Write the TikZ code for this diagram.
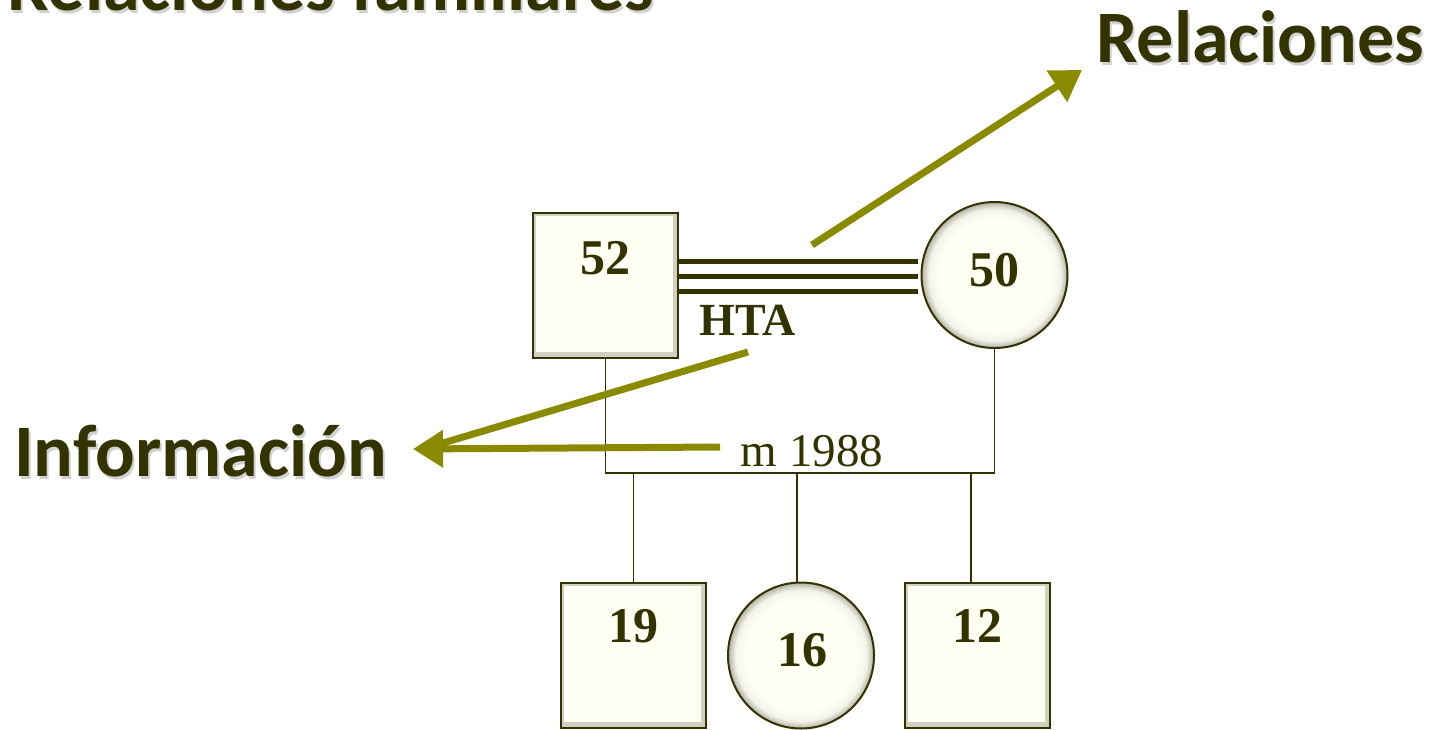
\documentclass[tikz,border=0pt]{standalone}
\usepackage{fontspec}
\setmainfont{Liberation Serif}
\newfontfamily\headfont{Carlito}
\usetikzlibrary{arrows.meta,calc}
\definecolor{ink}{HTML}{333300}
\definecolor{olivearrow}{HTML}{8A8A00}
\definecolor{cream}{HTML}{FFFFF4}
\definecolor{bevel}{HTML}{CFCFC2}
\pgfdeclareradialshading{ballbevel}{\pgfpoint{0bp}{0bp}}{color(0bp)=(cream); color(19bp)=(cream); color(22.5bp)=(cream!75!bevel); color(25bp)=(bevel!85!black); color(50bp)=(bevel!85!black)}
\newcommand{\shadowed}[1]{\makebox[0pt][l]{\hspace{2pt}\raisebox{-3pt}{\textcolor{black!18}{#1}}}#1}
\tikzset{
  sq/.style={draw=ink, line width=2pt, rectangle, minimum width=145pt, minimum height=145pt, inner sep=0pt, fill=bevel},
  inset/.style={fill=cream},
  ci/.style={draw=ink, line width=2pt, circle, minimum size=146pt, inner sep=0pt, shading=ballbevel},
  num/.style={text=ink, font=\fontsize{50}{50}\selectfont\bfseries},
  head/.style={text=ink, font=\headfont\fontsize{74}{74}\selectfont\bfseries, inner sep=0pt},
  link/.style={draw=ink, line width=1.5pt},
  rel/.style={draw=ink, line width=5pt},
  pointer/.style={draw=olivearrow, line width=7pt},
  pointerhead/.style={draw=olivearrow, line width=7pt, -{Triangle[length=30pt,width=36pt]}},
}
\begin{document}
\begin{tikzpicture}[x=1pt,y=-1pt]
\useasboundingbox (0,0) rectangle (1433,729);
% headings
\node[head, anchor=base west] (title) at (7,10) {\shadowed{Relaciones familiares}};
\node[head, anchor=base west] (relac) at (1096,62) {\shadowed{Relaciones}};
\node[head, anchor=base west] (info) at (14,476) {\shadowed{Información}};
% parents
\node[sq] (f) at (605.5,285.5) {};
\node[ci] (m) at (994.5,275) {};
% children
\node[sq] (c1) at (633.5,655.5) {};
\node[ci] (c2) at (801,655.5) {};
\node[sq] (c3) at (977,655.5) {};
% bevel insets of the squares
\foreach \n in {f,c1,c3}
  \fill[inset] ([shift={(4,4)}]\n.north west) rectangle ([shift={(-6,-7)}]\n.south east);
% numbers
\node[num] (f52) at (605,258) {52};
\node[num] (m50) at (994,270) {50};
\node[num] (n19) at (633,626) {19};
\node[num] (n16) at (802,650) {16};
\node[num] (n12) at (977,626) {12};
% relationship lines
\coordinate (r1) at (918,261);
\coordinate (r2) at (918,276);
\coordinate (r3) at (918,291);
\draw[rel] (f.east |- r1) -- (r1);
\draw[rel] (f.east |- r2) -- (r2);
\draw[rel] (f.east |- r3) -- (r3);
\node[font=\fontsize{46}{46}\selectfont\bfseries, text=ink] (hta) at (748,320) {HTA};
% marriage line
\coordinate (bar) at (800,473);
\draw[link] (f.south) -- (f.south |- bar) -- (m.south |- bar) -- (m.south);
\node[font=\fontsize{47}{47}\selectfont, text=ink, anchor=base] (year) at (812,466) {m 1988};
% children drops
\draw[link] (c1.north |- bar) -- (c1.north);
\draw[link] ([xshift=-4pt]c2.north |- bar) -- ([xshift=-4pt]c2.north);
\draw[link] ([xshift=-6pt]c3.north |- bar) -- ([xshift=-6pt]c3.north);
% pointers
\coordinate (p1) at (812,245);
\coordinate (p1e) at (1082,70);
\draw[pointerhead] (p1) -- (p1e);
\coordinate (p2) at (748,352);
\coordinate (p3) at (720,447);
\coordinate (tip) at (413,449);
\draw[pointer] (p2) -- ($(tip)+(20,-3)$);
\draw[pointerhead] (p3) -- (tip);
\end{tikzpicture}
\end{document}
